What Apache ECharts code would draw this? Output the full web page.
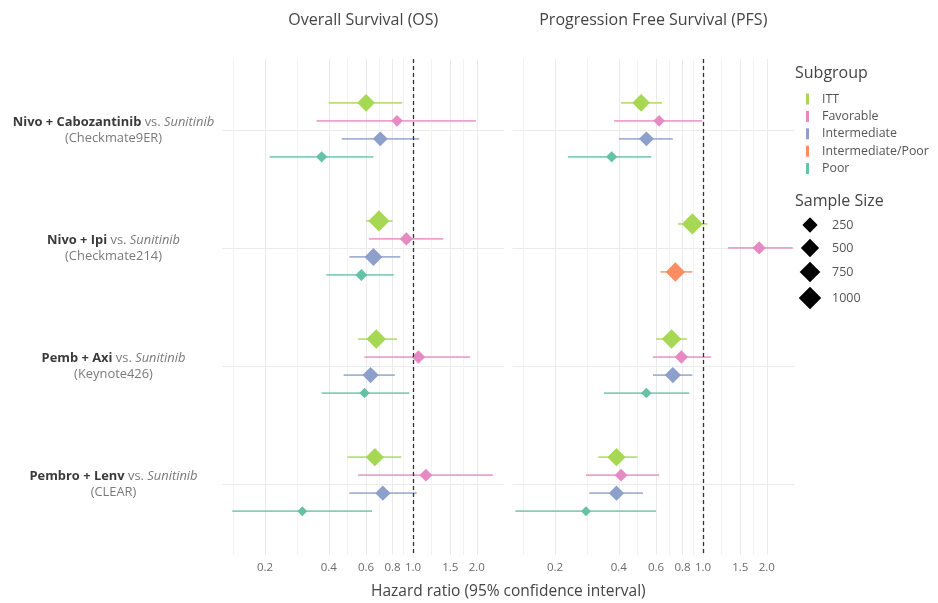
<!DOCTYPE html>
<html>
<head>
<meta charset="utf-8">
<script src="https://cdn.jsdelivr.net/npm/echarts@6/dist/echarts.min.js"></script>
<style>
  html, body { margin: 0; background: #fff; }
  #chart { width: 938px; height: 603px; }
</style>
</head>
<body>
<div id="chart"></div>
<script>
// trials (one row band each) and the comparator arm
const trials = ["Nivo + Cabozantinib", "Nivo + Ipi", "Pemb + Axi", "Pembro + Lenv"];
const comparator = "Sunitinib";
const studies = ["Checkmate9ER", "Checkmate214", "Keynote426", "CLEAR"];
const subgroups = ["ITT", "Favorable", "Intermediate", "Intermediate/Poor", "Poor"];
const tickValues = [0.2, 0.4, 0.6, 0.8, 1.0, 1.5, 2.0];
const minorValues = [0.141, 0.283, 0.49, 0.693, 0.894, 1.225, 1.732];
const sizeLegend = [250, 500, 750, 1000];

// Overall Survival
const osTrial = [0, 0, 0, 0, 1, 1, 1, 1, 2, 2, 2, 2, 3, 3, 3, 3];
const osGroup = ["ITT", "Favorable", "Intermediate", "Poor",
                 "ITT", "Favorable", "Intermediate", "Poor",
                 "ITT", "Favorable", "Intermediate", "Poor",
                 "ITT", "Favorable", "Intermediate", "Poor"];
const osHR   = [0.60, 0.84, 0.70, 0.37, 0.69, 0.93, 0.65, 0.57, 0.67, 1.06, 0.63, 0.59, 0.66, 1.15, 0.72, 0.30];
const osLow  = [0.40, 0.35, 0.46, 0.21, 0.60, 0.62, 0.50, 0.39, 0.55, 0.59, 0.47, 0.37, 0.49, 0.55, 0.50, 0.14];
const osHigh = [0.89, 1.98, 1.07, 0.65, 0.80, 1.39, 0.87, 0.81, 0.84, 1.86, 0.82, 0.96, 0.88, 2.38, 1.04, 0.64];
const osN    = [651, 146, 376, 129, 1096, 249, 670, 177, 861, 269, 497, 95, 712, 224, 412, 75];

// Progression Free Survival
const pfsTrial = [0, 0, 0, 0, 1, 1, 1, 2, 2, 2, 2, 3, 3, 3, 3];
const pfsGroup = ["ITT", "Favorable", "Intermediate", "Poor",
                  "ITT", "Favorable", "Intermediate/Poor",
                  "ITT", "Favorable", "Intermediate", "Poor",
                  "ITT", "Favorable", "Intermediate", "Poor"];
const pfsHR   = [0.51, 0.62, 0.54, 0.37, 0.89, 1.84, 0.74, 0.71, 0.79, 0.72, 0.54, 0.39, 0.41, 0.39, 0.28];
const pfsLow  = [0.41, 0.38, 0.40, 0.23, 0.76, 1.31, 0.63, 0.60, 0.58, 0.58, 0.34, 0.32, 0.28, 0.29, 0.13];
const pfsHigh = [0.64, 0.99, 0.72, 0.57, 1.05, 2.65, 0.89, 0.84, 1.09, 0.89, 0.86, 0.49, 0.62, 0.52, 0.60];
const pfsN    = [651, 146, 376, 129, 1096, 249, 847, 861, 269, 497, 95, 712, 224, 412, 75];

const colors = ["#a6d854", "#e78ac3", "#8da0cb", "#fc8d62", "#66c2a5"];
const font = "'Open Sans', sans-serif";
const log = Math.log10;
const sizeOf = n => 6 + 0.46 * Math.sqrt(n);

// dodge the subgroups of one trial around its band centre
function dodge(trialIdx) {
  const out = [];
  trialIdx.forEach((t, i) => {
    const members = trialIdx.map((v, j) => v === t ? j : -1).filter(j => j >= 0);
    const k = members.length, slot = 0.61 / k;
    out.push(t + (members.indexOf(i) - (k - 1) / 2) * slot);
  });
  return out;
}

function panelSeries(p, trialIdx, groups, hr, lo, hi, n) {
  const ys = dodge(trialIdx);
  const series = [];
  subgroups.forEach((g, gi) => {
    const idx = groups.map((v, i) => v === g ? i : -1).filter(i => i >= 0);
    if (!idx.length) return;
    series.push({
      name: g, type: "custom", xAxisIndex: p, yAxisIndex: p, z: 2,
      silent: true, animation: false,
      encode: { x: [0, 1], y: 2 },
      data: idx.map(i => [log(lo[i]), log(hi[i]), ys[i]]),
      renderItem: (params, api) => {
        const a = api.coord([api.value(0), api.value(2)]);
        const b = api.coord([api.value(1), api.value(2)]);
        return { type: "line", shape: { x1: a[0], y1: a[1], x2: b[0], y2: b[1] },
                 style: { stroke: colors[gi], lineWidth: 1.7, opacity: 0.8 } };
      }
    });
    series.push({
      name: g, type: "scatter", xAxisIndex: p, yAxisIndex: p, z: 3,
      symbol: "diamond", animation: false,
      symbolSize: d => sizeOf(d[2]),
      itemStyle: { color: colors[gi], opacity: 1 },
      data: idx.map(i => [log(hr[i]), ys[i], n[i]])
    });
  });
  // reference line at HR = 1
  series.push({
    type: "line", xAxisIndex: p, yAxisIndex: p, data: [], silent: true, z: 4,
    markLine: {
      silent: true, symbol: "none", animation: false, label: { show: false },
      lineStyle: { type: [4, 3], color: "#333", width: 1.3 },
      data: [{ xAxis: 0 }]
    }
  });
  return series;
}

const panels = [
  { left: 222.5, title: "Overall Survival (OS)" },
  { left: 512.5, title: "Progression Free Survival (PFS)" }
];
const gridW = 281.6, gridTop = 59, gridH = 496;
const xMin = -0.9, xMax = 0.43;

const majorAxes = panels.map((p, i) => ({
  gridIndex: i, type: "value", min: xMin, max: xMax, position: "bottom",
  axisLine: { show: false },
  axisTick: { show: false, customValues: tickValues.map(log) },
  axisLabel: {
    customValues: tickValues.map(log), color: "#6b6b6b", fontSize: 11.5, margin: 7,
    fontFamily: font,
    formatter: v => (Math.round(Math.pow(10, v) * 10) / 10).toFixed(1)
  },
  splitLine: { show: true, lineStyle: { color: "#ebebeb", width: 1 } }
}));
const minorAxes = panels.map((p, i) => ({
  gridIndex: i, type: "value", min: xMin, max: xMax, position: "top",
  axisLine: { show: false },
  axisTick: { show: false, customValues: minorValues.map(log) },
  axisLabel: { show: false },
  splitLine: { show: true, lineStyle: { color: "#f3f3f3", width: 1 } }
}));

const yAxes = panels.map((p, i) => ({
  gridIndex: i, type: "value", inverse: true, min: -0.6, max: 3.6,
  axisLine: { show: false },
  axisTick: { show: false, customValues: [0, 1, 2, 3] },
  axisLabel: {
    show: i === 0, customValues: [0, 1, 2, 3], align: "center", margin: 109,
    fontFamily: font, lineHeight: 16,
    formatter: v => {
      const t = Math.round(v);
      return "{b|" + trials[t] + "}{g| vs. }{i|" + comparator + "}\n{g|(" + studies[t] + ")}";
    },
    rich: {
      b: { fontWeight: "bold", color: "#3a3a3a", fontSize: 12.9, fontFamily: font, lineHeight: 16 },
      g: { color: "#7a7a7a", fontSize: 12.9, fontFamily: font, lineHeight: 16 },
      i: { color: "#7a7a7a", fontSize: 12.9, fontStyle: "italic", fontFamily: font, lineHeight: 16 }
    }
  },
  splitLine: { show: true, lineStyle: { color: "#ebebeb", width: 1 } }
}));

const series = [].concat(
  panelSeries(0, osTrial, osGroup, osHR, osLow, osHigh, osN),
  panelSeries(1, pfsTrial, pfsGroup, pfsHR, pfsLow, pfsHigh, pfsN)
);

const textColor = "#444";
const graphics = [];
panels.forEach(p => graphics.push({
  type: "text", x: p.left + gridW / 2, y: 20,
  style: { text: p.title, fill: textColor, font: "16px " + font, textAlign: "center", textVerticalAlign: "middle" }
}));
graphics.push({
  type: "text", x: (panels[0].left + panels[1].left + gridW) / 2, y: 592,
  style: { text: "Hazard ratio (95% confidence interval)", fill: textColor, font: "15.5px " + font,
           textAlign: "center", textVerticalAlign: "middle" }
});
graphics.push({
  type: "text", x: 795, y: 73,
  style: { text: "Subgroup", fill: textColor, font: "16px " + font, textVerticalAlign: "middle" }
});
graphics.push({
  type: "text", x: 795, y: 201,
  style: { text: "Sample Size", fill: textColor, font: "16px " + font, textVerticalAlign: "middle" }
});
const sizeRowY = [225, 248, 272, 298];
sizeLegend.forEach((n, i) => {
  const h = (sizeOf(n) + 2) / 2;
  graphics.push({
    type: "polygon",
    shape: { points: [[810, sizeRowY[i] - h], [810 + h, sizeRowY[i]], [810, sizeRowY[i] + h], [810 - h, sizeRowY[i]]] },
    style: { fill: "#000" }
  });
  graphics.push({
    type: "text", x: 832, y: sizeRowY[i],
    style: { text: String(n), fill: "#555", font: "12.5px " + font, textVerticalAlign: "middle" }
  });
});

const chart = echarts.init(document.getElementById("chart"));
chart.setOption({
  backgroundColor: "#fff",
  animation: false,
  grid: panels.map(p => ({ left: p.left, top: gridTop, width: gridW, height: gridH })),
  xAxis: majorAxes.concat(minorAxes),
  yAxis: yAxes,
  legend: {
    orient: "vertical", left: 801, top: 88, icon: "rect",
    itemWidth: 3, itemHeight: 11, itemGap: 5.4, selectedMode: false,
    data: subgroups.map((s, i) => ({ name: s, itemStyle: { color: colors[i] } })),
    textStyle: { color: "#555", fontSize: 12.4, fontFamily: font, padding: [0, 0, 0, 8] }
  },
  graphic: graphics,
  series: series
});
window.addEventListener("resize", () => chart.resize());
</script>
</body>
</html>
